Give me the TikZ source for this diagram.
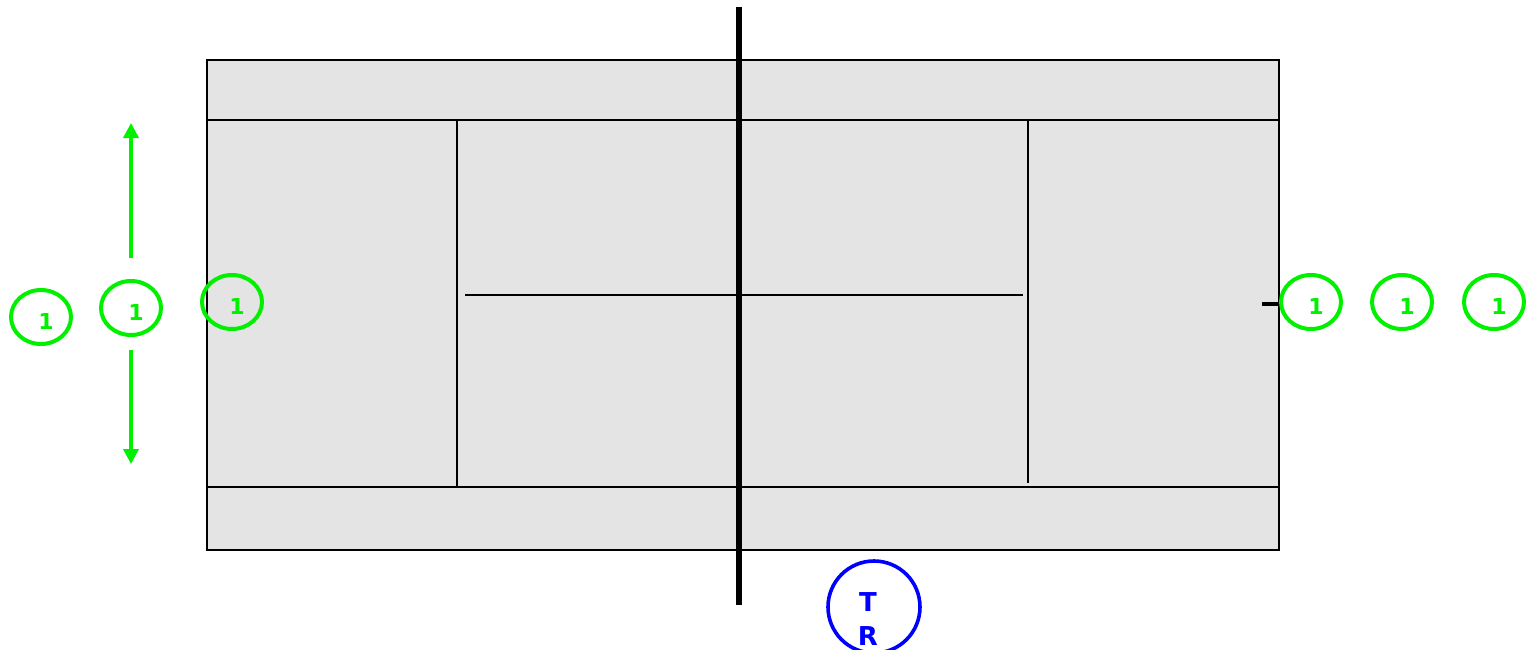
\documentclass[tikz,border=0pt]{standalone}
\usepackage{fontspec}
\newfontfamily\plfont{DejaVu Sans}[BoldFont={DejaVu Sans Bold}]
\usetikzlibrary{arrows.meta,shapes.geometric}
\definecolor{courtgray}{HTML}{E4E4E4}
\definecolor{pgreen}{HTML}{00F000}
\definecolor{pblue}{HTML}{0000FF}
\tikzset{
  cline/.style={line width=2.6pt},
  player/.style={draw=pgreen,ellipse,line width=4pt,minimum width=60pt,minimum height=54pt,
    inner sep=0pt,text=pgreen,font=\plfont\bfseries\fontsize{22}{22}\selectfont,
    text height=24pt,text depth=0pt,execute at begin node={\hspace*{10pt}}},
  umpire/.style={draw=pblue,circle,line width=3.6pt,minimum size=92pt,inner sep=0pt},
  move/.style={-{Triangle[length=15pt,width=15pt]},line width=3.6pt,draw=pgreen}
}

\begin{document}
\begin{tikzpicture}[x=1pt,y=-1pt]
\useasboundingbox (0,0) rectangle (1527,649);

% court
\fill[courtgray] (207,60) rectangle (1279,550);
\draw[cline] (207,60) rectangle (1279,550);
\draw[cline] (207,120) -- (1279,120);
\draw[cline] (207,487) -- (1279,487);
\draw[cline] (457,120) -- (457,487);
\draw[cline] (1028,120) -- (1028,483);
\draw[cline] (465,295) -- (1023,295);
\draw[line width=5.5pt] (739,7) -- (739,605);
\draw[line width=4pt] (1262,304) -- (1279,304);

% players
\node[player] (la) at (41,317) {1};
\node[player] (lb) at (131,308) {1};
\node[player] (lc) at (232,302) {1};
\node[player] (ra) at (1311,302) {1};
\node[player] (rb) at (1402,302) {1};
\node[player] (rc) at (1494,302) {1};

\coordinate (upend) at (131,123);
\coordinate (downend) at (131,464);
\draw[move,shorten <=21pt] (lb.north) -- (upend);
\draw[move,shorten <=13pt] (lb.south) -- (downend);

% umpire
\node[umpire,label={[text=pblue,align=center,font=\plfont\bfseries\fontsize{26}{34}\selectfont,
  xshift=-6pt,yshift=-12.5pt]center:T\\R}] (ump) at (874,607) {};

\end{tikzpicture}
\end{document}
